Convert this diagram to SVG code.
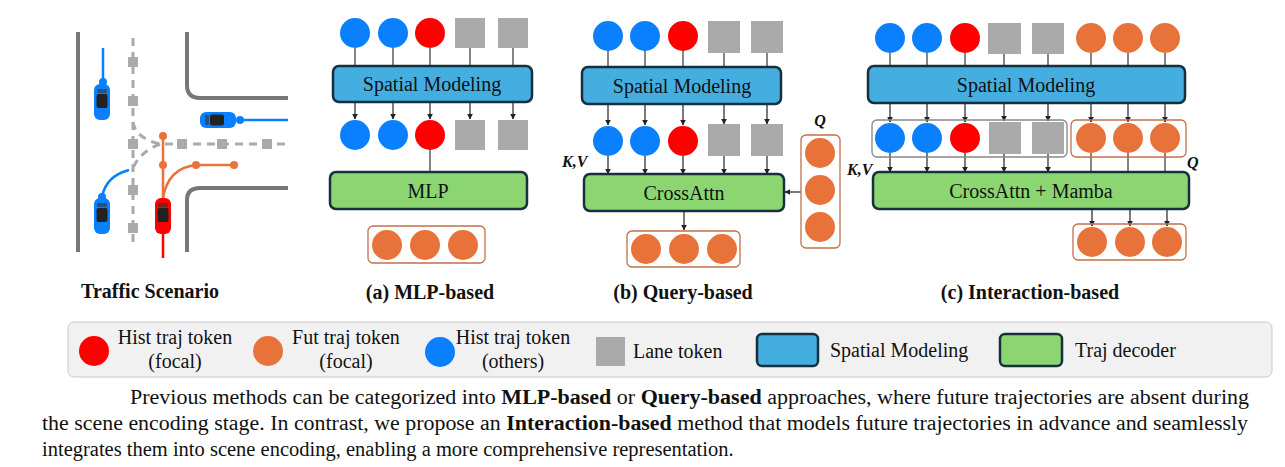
<svg xmlns="http://www.w3.org/2000/svg" width="1285" height="467" viewBox="0 0 1285 467">
<defs>
<style>
.b{fill:#0a80ff}.r{fill:#ff0000}.o{fill:#e8733a}.g{fill:#aaaaaa}
.sm{fill:#45aee0;stroke:#17303f;stroke-width:2.5}
.dec{fill:#8cd672;stroke:#17303f;stroke-width:2.5}
.t{font-family:"Liberation Serif",serif;fill:#111}
.lb{font-family:"Liberation Serif",serif;font-weight:bold;font-size:20px;fill:#111;text-anchor:middle}
.ln line{stroke:#333;stroke-width:1.2}
.ar line{stroke:#222;stroke-width:1.2;marker-end:url(#m)}
.ob{fill:none;stroke:#c0704a;stroke-width:1.3}
.gb{fill:none;stroke:#888;stroke-width:1.3}
.road{stroke:#777;stroke-width:4;fill:none}
.dash{stroke:#aaa;stroke-width:3;stroke-dasharray:8 6;fill:none}
</style>
<marker id="m" viewBox="0 0 10 10" refX="9" refY="5" markerWidth="5" markerHeight="5" orient="auto"><path d="M0,0L10,5L0,10z" fill="#222"/></marker>
<g id="car"><rect x="-8" y="-18" width="16" height="36" rx="6"/><rect x="-5.5" y="-8" width="11" height="14" rx="2" fill="#222"/><rect x="-5" y="-13" width="10" height="4" rx="1" fill="#333" opacity="0.6"/></g>
</defs>
<rect width="1285" height="467" fill="#fff"/>

<g id="scene">
<line class="road" x1="78" y1="32" x2="78" y2="252"/>
<path class="road" d="M187,32V85Q187,98 200,98H288"/>
<path class="road" d="M288,188H200Q187,188 187,200V252"/>
<line class="dash" x1="133" y1="38" x2="133" y2="245"/>
<line class="dash" x1="165" y1="144" x2="288" y2="144"/>
<path class="dash" d="M133,122Q135,138 160,144M160,144Q140,152 133,168"/>
<g class="g"><rect x="128" y="57" width="10" height="10"/><rect x="128" y="96" width="10" height="10"/><rect x="128" y="139" width="10" height="10"/><rect x="128" y="185" width="10" height="10"/><rect x="128" y="223" width="10" height="10"/><rect x="177" y="139" width="10" height="10"/><rect x="217" y="139" width="10" height="10"/><rect x="262" y="139" width="10" height="10"/></g>
<g stroke="#0a80ff" stroke-width="2.5" fill="none"><line x1="103" y1="48" x2="103" y2="82"/><line x1="240" y1="120" x2="288" y2="120"/><path d="M129,170Q106,176 102,197"/></g>
<g class="b"><circle cx="103" cy="82" r="4"/><circle cx="240" cy="120" r="4"/><circle cx="102" cy="197" r="4"/></g>
<line x1="163" y1="215" x2="163" y2="258" stroke="#ff0000" stroke-width="2.5"/>
<g stroke="#e8733a" stroke-width="2.5" fill="none"><line x1="163" y1="136" x2="163" y2="198"/><path d="M163,198Q168,168 196,165H234"/></g>
<g class="o"><circle cx="163" cy="136" r="4"/><circle cx="163" cy="165" r="4"/><circle cx="196" cy="165" r="4"/><circle cx="234" cy="165" r="4"/></g>
<use href="#car" x="102" y="102" class="b"/>
<use href="#car" x="102" y="216" class="b"/>
<use href="#car" x="163" y="216" class="r"/>
<use href="#car" transform="translate(218,120) rotate(-90)" class="b"/>
<text class="lb" x="150" y="298">Traffic Scenario</text>
</g>

<g id="panelA">
<g class="ln"><line x1="355" y1="48" x2="355" y2="66"/><line x1="393" y1="48" x2="393" y2="66"/><line x1="430" y1="48" x2="430" y2="66"/><line x1="470" y1="48" x2="470" y2="66"/><line x1="513" y1="48" x2="513" y2="66"/><line x1="430" y1="150" x2="430" y2="172"/></g>
<g class="ar"><line x1="355" y1="102" x2="355" y2="119"/><line x1="393" y1="102" x2="393" y2="119"/><line x1="430" y1="102" x2="430" y2="119"/><line x1="470" y1="102" x2="470" y2="119"/><line x1="513" y1="102" x2="513" y2="119"/></g>
<circle class="b" cx="355" cy="33" r="15"/><circle class="b" cx="393" cy="33" r="15"/><circle class="r" cx="430" cy="33" r="15"/>
<rect class="g" x="455" y="18" width="30" height="30"/><rect class="g" x="498" y="18" width="30" height="30"/>
<rect class="sm" x="333" y="66" width="199" height="36" rx="6"/>
<text class="t" x="432" y="91" font-size="20" text-anchor="middle">Spatial Modeling</text>
<circle class="b" cx="355" cy="135" r="15"/><circle class="b" cx="393" cy="135" r="15"/><circle class="r" cx="430" cy="135" r="15"/>
<rect class="g" x="455" y="120" width="30" height="30"/><rect class="g" x="498" y="120" width="30" height="30"/>
<rect class="dec" x="330" y="172" width="197" height="37" rx="6"/>
<text class="t" x="428" y="198" font-size="20" text-anchor="middle">MLP</text>
<rect class="ob" x="368" y="226" width="117" height="37" rx="5"/>
<circle class="o" cx="387" cy="245" r="15"/><circle class="o" cx="425" cy="245" r="15"/><circle class="o" cx="463" cy="245" r="15"/>
<text class="lb" x="430" y="299">(a) MLP-based</text>
</g>

<g id="panelB">
<g class="ln"><line x1="608" y1="50" x2="608" y2="67"/><line x1="645" y1="50" x2="645" y2="67"/><line x1="683" y1="50" x2="683" y2="67"/><line x1="724" y1="50" x2="724" y2="67"/><line x1="767" y1="50" x2="767" y2="67"/></g>
<g class="ar"><line x1="608" y1="104" x2="608" y2="125"/><line x1="645" y1="104" x2="645" y2="125"/><line x1="683" y1="104" x2="683" y2="125"/><line x1="724" y1="104" x2="724" y2="124"/><line x1="767" y1="104" x2="767" y2="124"/>
<line x1="608" y1="156" x2="608" y2="174"/><line x1="645" y1="156" x2="645" y2="174"/><line x1="683" y1="156" x2="683" y2="174"/><line x1="724" y1="156" x2="724" y2="174"/><line x1="767" y1="156" x2="767" y2="174"/>
<line x1="684" y1="211" x2="684" y2="230"/><line x1="801" y1="192" x2="785" y2="192"/></g>
<circle class="b" cx="608" cy="36" r="15"/><circle class="b" cx="645" cy="36" r="15"/><circle class="r" cx="683" cy="36" r="15"/>
<rect class="g" x="708" y="21" width="32" height="32"/><rect class="g" x="751" y="21" width="32" height="32"/>
<rect class="sm" x="582" y="67" width="199" height="37" rx="6"/>
<text class="t" x="682" y="93" font-size="20" text-anchor="middle">Spatial Modeling</text>
<circle class="b" cx="608" cy="141" r="15"/><circle class="b" cx="645" cy="141" r="15"/><circle class="r" cx="683" cy="141" r="15"/>
<rect class="g" x="708" y="124" width="32" height="32"/><rect class="g" x="751" y="124" width="32" height="32"/>
<text class="t" x="562" y="167" font-size="16" font-weight="bold" font-style="italic">K,V</text>
<rect class="dec" x="584" y="174" width="200" height="37" rx="6"/>
<text class="t" x="684" y="200" font-size="20" text-anchor="middle">CrossAttn</text>
<text class="t" x="820" y="126" font-size="16" font-weight="bold" font-style="italic" text-anchor="middle">Q</text>
<rect class="ob" x="801" y="135" width="39" height="113" rx="5"/>
<circle class="o" cx="820" cy="153" r="15"/><circle class="o" cx="820" cy="190" r="15"/><circle class="o" cx="820" cy="227" r="15"/>
<rect class="ob" x="627" y="231" width="113" height="36" rx="5"/>
<circle class="o" cx="646" cy="249" r="15"/><circle class="o" cx="684" cy="249" r="15"/><circle class="o" cx="722" cy="249" r="15"/>
<text class="lb" x="683" y="299">(b) Query-based</text>
</g>

<g id="panelC">
<g class="ln"><line x1="890" y1="53" x2="890" y2="66"/><line x1="927" y1="53" x2="927" y2="66"/><line x1="965" y1="53" x2="965" y2="66"/><line x1="1004" y1="53" x2="1004" y2="66"/><line x1="1048" y1="53" x2="1048" y2="66"/><line x1="1091" y1="53" x2="1091" y2="66"/><line x1="1128" y1="53" x2="1128" y2="66"/><line x1="1165" y1="53" x2="1165" y2="66"/>
<line x1="1091" y1="153" x2="1091" y2="172"/><line x1="1128" y1="153" x2="1128" y2="172"/><line x1="1165" y1="153" x2="1165" y2="172"/></g>
<g class="ar"><line x1="890" y1="103" x2="890" y2="122"/><line x1="927" y1="103" x2="927" y2="122"/><line x1="965" y1="103" x2="965" y2="122"/><line x1="1004" y1="103" x2="1004" y2="121"/><line x1="1048" y1="103" x2="1048" y2="121"/><line x1="1091" y1="103" x2="1091" y2="122"/><line x1="1128" y1="103" x2="1128" y2="122"/><line x1="1165" y1="103" x2="1165" y2="122"/>
<line x1="890" y1="153" x2="890" y2="172"/><line x1="927" y1="153" x2="927" y2="172"/><line x1="965" y1="153" x2="965" y2="172"/><line x1="1004" y1="154" x2="1004" y2="172"/><line x1="1048" y1="154" x2="1048" y2="172"/>
<line x1="1092" y1="209" x2="1092" y2="226"/><line x1="1130" y1="209" x2="1130" y2="226"/><line x1="1167" y1="209" x2="1167" y2="226"/></g>
<circle class="b" cx="890" cy="38" r="15"/><circle class="b" cx="927" cy="38" r="15"/><circle class="r" cx="965" cy="38" r="15"/>
<rect class="g" x="988" y="23" width="33" height="31"/><rect class="g" x="1032" y="23" width="32" height="31"/>
<circle class="o" cx="1091" cy="38" r="15"/><circle class="o" cx="1128" cy="38" r="15"/><circle class="o" cx="1165" cy="38" r="15"/>
<rect class="sm" x="868" y="66" width="317" height="37" rx="6"/>
<text class="t" x="1026" y="92" font-size="20" text-anchor="middle">Spatial Modeling</text>
<rect class="gb" x="872" y="120" width="195" height="37" rx="5"/>
<rect class="ob" x="1071" y="120" width="115" height="37" rx="5"/>
<circle class="b" cx="890" cy="138" r="15"/><circle class="b" cx="927" cy="138" r="15"/><circle class="r" cx="965" cy="138" r="15"/>
<rect class="g" x="989" y="122" width="32" height="32"/><rect class="g" x="1032" y="122" width="32" height="32"/>
<circle class="o" cx="1091" cy="138" r="15"/><circle class="o" cx="1128" cy="138" r="15"/><circle class="o" cx="1165" cy="138" r="15"/>
<text class="t" x="847" y="175" font-size="16" font-weight="bold" font-style="italic">K,V</text>
<text class="t" x="1187" y="168" font-size="16" font-weight="bold" font-style="italic">Q</text>
<rect class="dec" x="873" y="172" width="316" height="37" rx="6"/>
<text class="t" x="1031" y="198" font-size="20" text-anchor="middle">CrossAttn + Mamba</text>
<rect class="ob" x="1073" y="224" width="113" height="36" rx="5"/>
<circle class="o" cx="1092" cy="242" r="15"/><circle class="o" cx="1130" cy="242" r="15"/><circle class="o" cx="1167" cy="242" r="15"/>
<text class="lb" x="1030" y="299">(c) Interaction-based</text>
</g>

<g id="legend">
<rect x="68" y="322" width="1204" height="55" rx="6" fill="#f1f1f1" stroke="#c8c8c8"/>
<g class="t" font-size="20" text-anchor="middle">
<circle class="r" cx="94" cy="351" r="15"/><text x="175" y="344">Hist traj token</text><text x="175" y="368">(focal)</text>
<circle class="o" cx="268" cy="351" r="15"/><text x="346" y="344">Fut traj token</text><text x="346" y="368">(focal)</text>
<circle class="b" cx="440" cy="352" r="15"/><text x="513" y="344">Hist traj token</text><text x="513" y="368">(others)</text>
<rect class="g" x="596" y="337" width="29" height="29"/><text x="633" y="358" text-anchor="start">Lane token</text>
<rect class="sm" x="757" y="334" width="61" height="32" rx="5"/><text x="830" y="357" text-anchor="start">Spatial Modeling</text>
<rect class="dec" x="1000" y="334" width="62" height="32" rx="5"/><text x="1075" y="357" text-anchor="start">Traj decoder</text>
</g>
</g>

<g class="t" font-size="20.5">
<text x="130" y="404" textLength="1119" lengthAdjust="spacingAndGlyphs">Previous methods can be categorized into <tspan font-weight="bold">MLP-based</tspan> or <tspan font-weight="bold">Query-based</tspan> approaches, where future trajectories are absent during</text>
<text x="42" y="430" textLength="1206" lengthAdjust="spacingAndGlyphs">the scene encoding stage. In contrast, we propose an <tspan font-weight="bold">Interaction-based</tspan> method that models future trajectories in advance and seamlessly</text>
<text x="42" y="456">integrates them into scene encoding, enabling a more comprehensive representation.</text>
</g>
</svg>
